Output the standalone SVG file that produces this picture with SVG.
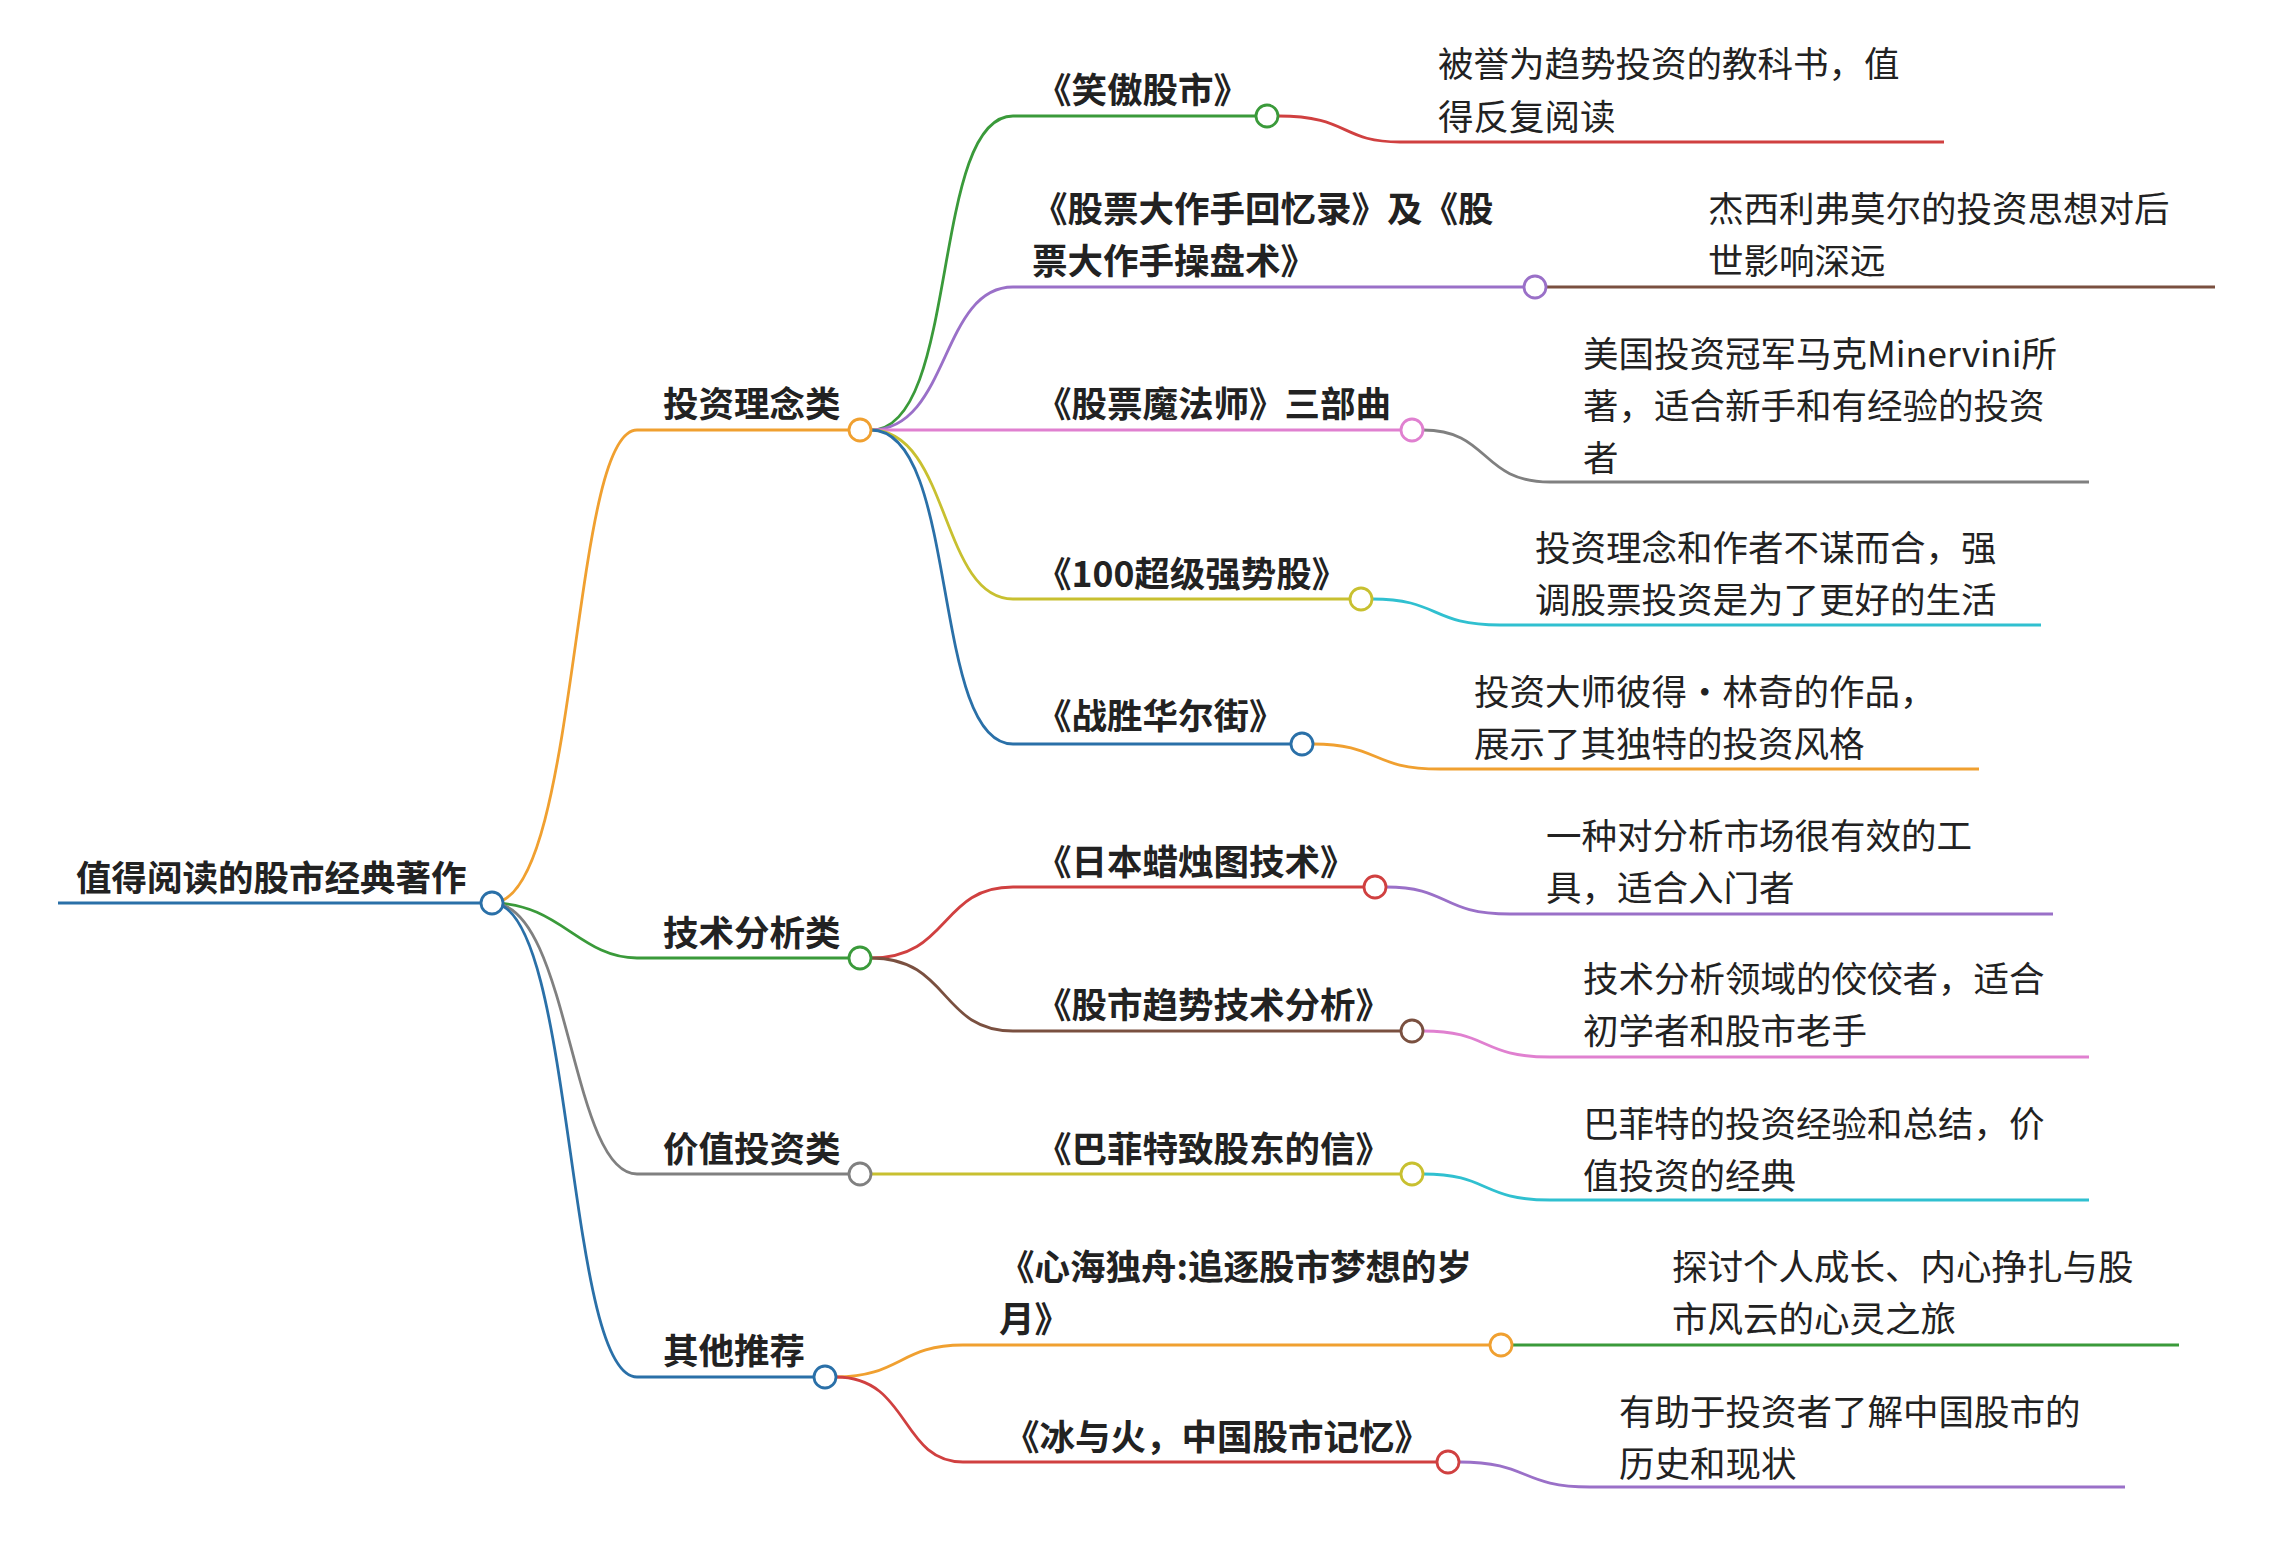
<svg xmlns="http://www.w3.org/2000/svg" width="2270" height="1557" viewBox="0 0 2270 1557">
<style>
.c{fill:none;stroke-width:2.8}
.n{fill:#fff;stroke-width:2.8}
.t{font-family:"Noto Sans CJK SC","Noto Sans",sans-serif;font-size:35.5px;fill:#222}
.b{font-weight:bold}
</style>
<rect width="2270" height="1557" fill="#fff"/>
<g id="connectors">
<path class="c" stroke="#2a70a8" d="M58 903H481"/>
<path class="c" stroke="#f0a030" d="M492 903C580 903 570 430 637 430H849"/>
<path class="c" stroke="#3a9a3a" d="M492 903C560 903 580 958 637 958H849"/>
<path class="c" stroke="#808080" d="M492 903C570 903 570 1174 637 1174H849"/>
<path class="c" stroke="#2a70a8" d="M492 903C575 903 565 1377 637 1377H814"/>
<path class="c" stroke="#3a9a3a" d="M871 430C960 430 930 116 1013 116H1256"/>
<path class="c" stroke="#9a70c8" d="M871 430C950 430 940 287 1013 287H1524"/>
<path class="c" stroke="#e080d0" d="M871 430H1401"/>
<path class="c" stroke="#c8c030" d="M871 430C950 430 940 599 1013 599H1350"/>
<path class="c" stroke="#2a70a8" d="M871 430C960 430 930 744 1013 744H1291"/>
<path class="c" stroke="#d04040" d="M871 958C950 958 940 887 1013 887H1364"/>
<path class="c" stroke="#7a5040" d="M871 958C950 958 940 1031 1013 1031H1401"/>
<path class="c" stroke="#c8c030" d="M871 1174H1401"/>
<path class="c" stroke="#f0a030" d="M836 1377C900 1377 900 1345 963 1345H1490"/>
<path class="c" stroke="#d04040" d="M836 1377C910 1377 900 1462 963 1462H1437"/>
<path class="c" stroke="#d04040" d="M1278 116C1350 116 1340 142 1400 142H1944"/>
<path class="c" stroke="#7a5040" d="M1546 287H2215"/>
<path class="c" stroke="#808080" d="M1423 430C1490 430 1480 482 1550 482H2089"/>
<path class="c" stroke="#30c0d0" d="M1372 599C1440 599 1430 625 1500 625H2041"/>
<path class="c" stroke="#f0a030" d="M1313 744C1380 744 1370 769 1440 769H1979"/>
<path class="c" stroke="#9a70c8" d="M1386 887C1450 887 1440 914 1510 914H2053"/>
<path class="c" stroke="#e080d0" d="M1423 1031C1490 1031 1480 1057 1550 1057H2089"/>
<path class="c" stroke="#30c0d0" d="M1423 1174C1490 1174 1480 1200 1550 1200H2089"/>
<path class="c" stroke="#3a9a3a" d="M1512 1345H2179"/>
<path class="c" stroke="#9a70c8" d="M1459 1462C1530 1462 1520 1487 1590 1487H2125"/>
</g>
<g id="root"><circle class="n" stroke="#2a70a8" cx="492" cy="903" r="11"/><text class="t b" x="76" y="891">值得阅读的股市经典著作</text></g>
<g id="cat1"><circle class="n" stroke="#f0a030" cx="860" cy="430" r="11"/><text class="t b" x="663" y="417">投资理念类</text></g>
<g id="cat2"><circle class="n" stroke="#3a9a3a" cx="860" cy="958" r="11"/><text class="t b" x="663" y="946">技术分析类</text></g>
<g id="cat3"><circle class="n" stroke="#808080" cx="860" cy="1174" r="11"/><text class="t b" x="663" y="1162">价值投资类</text></g>
<g id="cat4"><circle class="n" stroke="#2a70a8" cx="825" cy="1377" r="11"/><text class="t b" x="663" y="1364">其他推荐</text></g>
<g id="b1"><circle class="n" stroke="#3a9a3a" cx="1267" cy="116" r="11"/><text class="t b" x="1036" y="103">《笑傲股市》</text>
<text class="t" x="1438" y="77">被誉为趋势投资的教科书，值</text><text class="t" x="1438" y="130">得反复阅读</text></g>
<g id="b2"><circle class="n" stroke="#9a70c8" cx="1535" cy="287" r="11"/><text class="t b" x="1032" y="222">《股票大作手回忆录》及《股</text><text class="t b" x="1032" y="274">票大作手操盘术》</text>
<text class="t" x="1708" y="222">杰西利弗莫尔的投资思想对后</text><text class="t" x="1708" y="274">世影响深远</text></g>
<g id="b3"><circle class="n" stroke="#e080d0" cx="1412" cy="430" r="11"/><text class="t b" x="1036" y="417">《股票魔法师》三部曲</text>
<text class="t" x="1583" y="367">美国投资冠军马克Minervini所</text><text class="t" x="1583" y="419">著，适合新手和有经验的投资</text><text class="t" x="1583" y="471">者</text></g>
<g id="b4"><circle class="n" stroke="#c8c030" cx="1361" cy="599" r="11"/><text class="t b" x="1036" y="587">《100超级强势股》</text>
<text class="t" x="1535" y="561">投资理念和作者不谋而合，强</text><text class="t" x="1535" y="613">调股票投资是为了更好的生活</text></g>
<g id="b5"><circle class="n" stroke="#2a70a8" cx="1302" cy="744" r="11"/><text class="t b" x="1036" y="729">《战胜华尔街》</text>
<text class="t" x="1474" y="705">投资大师彼得・林奇的作品，</text><text class="t" x="1474" y="757">展示了其独特的投资风格</text></g>
<g id="b6"><circle class="n" stroke="#d04040" cx="1375" cy="887" r="11"/><text class="t b" x="1036" y="875">《日本蜡烛图技术》</text>
<text class="t" x="1546" y="849">一种对分析市场很有效的工</text><text class="t" x="1546" y="901">具，适合入门者</text></g>
<g id="b7"><circle class="n" stroke="#7a5040" cx="1412" cy="1031" r="11"/><text class="t b" x="1036" y="1018">《股市趋势技术分析》</text>
<text class="t" x="1583" y="992">技术分析领域的佼佼者，适合</text><text class="t" x="1583" y="1044">初学者和股市老手</text></g>
<g id="b8"><circle class="n" stroke="#c8c030" cx="1412" cy="1174" r="11"/><text class="t b" x="1036" y="1162">《巴菲特致股东的信》</text>
<text class="t" x="1583" y="1137">巴菲特的投资经验和总结，价</text><text class="t" x="1583" y="1189">值投资的经典</text></g>
<g id="b9"><circle class="n" stroke="#f0a030" cx="1501" cy="1345" r="11"/><text class="t b" x="999" y="1280">《心海独舟:追逐股市梦想的岁</text><text class="t b" x="999" y="1332">月》</text>
<text class="t" x="1672" y="1280">探讨个人成长、内心挣扎与股</text><text class="t" x="1672" y="1332">市风云的心灵之旅</text></g>
<g id="b10"><circle class="n" stroke="#d04040" cx="1448" cy="1462" r="11"/><text class="t b" x="1004" y="1450">《冰与火，中国股市记忆》</text>
<text class="t" x="1619" y="1425">有助于投资者了解中国股市的</text><text class="t" x="1619" y="1477">历史和现状</text></g>
</svg>
